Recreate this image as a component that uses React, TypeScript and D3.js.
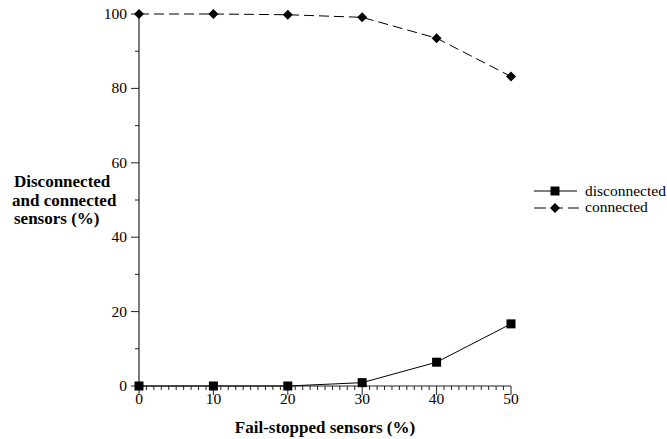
import * as React from "react";
import * as d3 from "d3";

const failStopped = [0, 10, 20, 30, 40, 50];
const disconnected = [0, 0, 0, 0.9, 6.4, 16.7];
const connected = [100, 100, 99.8, 99.1, 93.5, 83.2];
const yTicks = [0, 20, 40, 60, 80, 100];
const xTicks = [0, 10, 20, 30, 40, 50];

const width = 667;
const height = 439;
const font = '"Liberation Serif", "DejaVu Serif", serif';

const Square = ({ x, y }: { x: number; y: number }) => (
  <rect x={x - 4.5} y={y - 4.5} width={9} height={9} fill="#000" />
);

const Diamond = ({ x, y }: { x: number; y: number }) => (
  <path d={`M${x},${y - 5}L${x + 5},${y}L${x},${y + 5}L${x - 5},${y}Z`} fill="#000" />
);

const App = () => {
  const x = d3.scaleLinear().domain([0, 50]).range([139, 511]);
  const y = d3.scaleLinear().domain([0, 100]).range([386, 14]);

  const line = d3
    .line<number>()
    .x((_, i) => x(failStopped[i]))
    .y((d) => y(d));

  const minorX = d3.range(0, 51, 1).filter((v) => v % 10 !== 0);
  const minorY = d3.range(10, 100, 20);
  const ts = { fontFamily: font };

  return (
    <svg
      width={width}
      height={height}
      style={{ position: "absolute", left: 0, top: 0, fontFamily: font }}
    >
      <rect width={width} height={height} fill="#fff" />
      {/* axes */}
      <line x1={x(0)} x2={x(0)} y1={y(100)} y2={y(0)} stroke="#222" strokeWidth={1.2} />
      <line x1={x(0)} x2={x(50)} y1={y(0)} y2={y(0)} stroke="#222" strokeWidth={1.2} />
      {yTicks.map((t) => (
        <g key={"y" + t}>
          <line x1={x(0) - 8} x2={x(0)} y1={y(t)} y2={y(t)} stroke="#222" />
          <text x={x(0) - 12} y={y(t) + 5} textAnchor="end" fontSize={15.5} fill="#000" style={ts}>
            {t}
          </text>
        </g>
      ))}
      {minorY.map((t) => (
        <line key={"my" + t} x1={x(0) - 4} x2={x(0)} y1={y(t)} y2={y(t)} stroke="#222" />
      ))}
      {xTicks.map((t) => (
        <g key={"x" + t}>
          <line x1={x(t)} x2={x(t)} y1={y(0)} y2={y(0) + 9} stroke="#222" />
          <text x={x(t)} y={404} textAnchor="middle" fontSize={15.5} fill="#000" style={ts}>
            {t}
          </text>
        </g>
      ))}
      {minorX.map((t) => (
        <line key={"mx" + t} x1={x(t)} x2={x(t)} y1={y(0)} y2={y(0) + 4} stroke="#222" />
      ))}

      {/* series */}
      <path d={line(disconnected) || ""} fill="none" stroke="#000" strokeWidth={1} />
      <path
        d={line(connected) || ""}
        fill="none"
        stroke="#000"
        strokeWidth={1}
        strokeDasharray="10,5"
      />
      {disconnected.map((d, i) => (
        <Square key={"s" + i} x={x(failStopped[i])} y={y(d)} />
      ))}
      {connected.map((d, i) => (
        <Diamond key={"d" + i} x={x(failStopped[i])} y={y(d)} />
      ))}

      {/* titles */}
      <text x={325} y={433} textAnchor="middle" fontSize={17} fontWeight="bold" fill="#000" style={ts}>
        Fail-stopped sensors (%)
      </text>
      <text fontSize={17} fontWeight="bold" fill="#000" style={ts}>
        <tspan x={14} y={187}>Disconnected</tspan>
        <tspan x={12} y={206}>and connected</tspan>
        <tspan x={14} y={224}>sensors (%)</tspan>
      </text>

      {/* legend */}
      <line x1={534} x2={577} y1={191} y2={191} stroke="#000" />
      <Square x={555} y={191} />
      <text x={585} y={196} fontSize={15.5} fill="#000" style={ts}>
        disconnected
      </text>
      <line x1={534} x2={579} y1={208} y2={208} stroke="#000" strokeDasharray="12,5" />
      <Diamond x={555} y={208} />
      <text x={585} y={212} fontSize={15.5} fill="#000" style={ts}>
        connected
      </text>
    </svg>
  );
};

export default App;
